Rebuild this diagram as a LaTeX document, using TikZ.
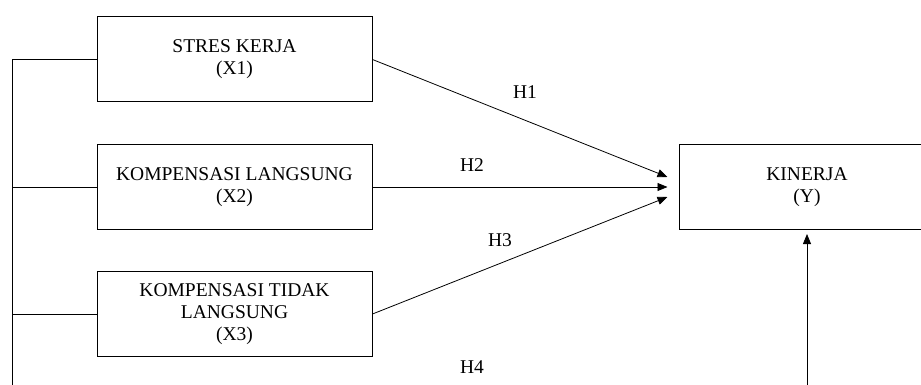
\documentclass[tikz,border=0pt]{standalone}
\usepackage{fontspec}
\setmainfont{Liberation Serif}
\usetikzlibrary{arrows.meta}

\begin{document}
\begin{tikzpicture}[x=1pt, y=-1pt,
    varbox/.style={draw, line width=1pt, minimum width=275pt, minimum height=85pt,
      align=center, font=\fontsize{19.5}{22}\selectfont},
    hlabel/.style={font=\fontsize{19.5}{22}\selectfont},
    link/.style={line width=0.8pt, -{Triangle[length=10pt,width=8pt]}}]
    \useasboundingbox (0, 0) rectangle (921, 385);
    \clip (0, 0) rectangle (921, 385);

    \node[varbox] (x1) at (234.5, 59.5) {STRES KERJA\\(X1)};
    \node[varbox] (x2) at (234.5, 187) {KOMPENSASI LANGSUNG\\(X2)};
    \node[varbox] (x3) at (234.5, 314) {KOMPENSASI TIDAK\\LANGSUNG\\(X3)};
    \node[varbox, minimum width=256pt] (y) at (807, 187) {KINERJA\\(Y)};

    \node[hlabel] (h1) at (525, 92) {H1};
    \node[hlabel] (h2) at (472, 165) {H2};
    \node[hlabel] (h3) at (500, 240) {H3};
    \node[hlabel] (h4) at (472, 367) {H4};

    \coordinate (bus) at (12, 59.5);
    \coordinate (bl) at (12, 400);
    \coordinate (br) at (807, 400);

    \draw [link] (x1.east) -- ([xshift=-11pt, yshift=10pt]y.west);
    \draw [link] (x2.east) -- ([xshift=-11pt]y.west);
    \draw [link] (x3.east) -- ([xshift=-11pt, yshift=-10pt]y.west);

    \draw [line width=0.8pt] (x1.west) -- (bus) -- (bl);
    \draw [line width=0.8pt] (x2.west) -- (x2.west -| bus);
    \draw [line width=0.8pt] (x3.west) -- (x3.west -| bus);
    \draw [link, shorten >=4pt] (bl) -- (br) -- (y.south);
  \end{tikzpicture}
\end{document}
